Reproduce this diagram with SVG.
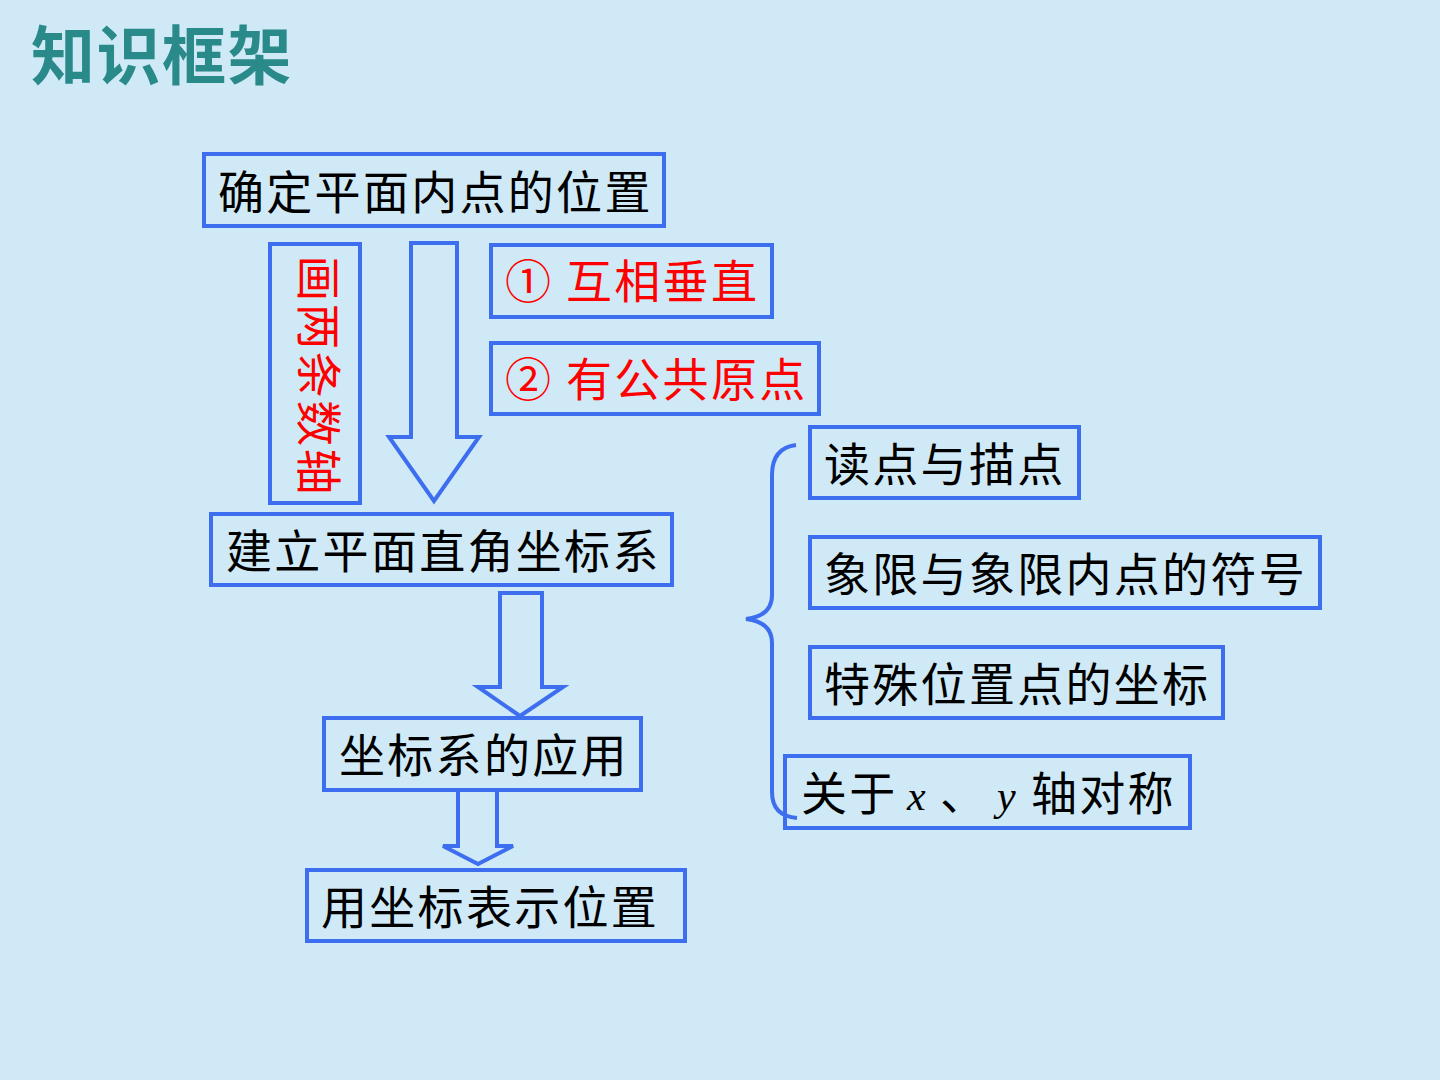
<svg xmlns="http://www.w3.org/2000/svg" width="1440" height="1080" viewBox="0 0 1440 1080">
<style>
.box{fill:none;stroke:#3d6ef0;stroke-width:4}
.arr{fill:none;stroke:#3d6ef0;stroke-width:4;stroke-linejoin:miter}
.t{font-family:"Noto Sans CJK SC","Noto Sans",sans-serif;font-size:46px;fill:#000;letter-spacing:2.3px}
.r{fill:#f00}
.it{font-family:"Liberation Serif",serif;font-style:italic;font-size:42px}
</style>
<rect width="1440" height="1080" fill="#cfe9f6"/>
<text x="31" y="79" font-family="'Noto Sans CJK SC',sans-serif" font-weight="bold" font-size="64" letter-spacing="1.5" fill="#2a8a8a">知识框架</text>
<g id="connectors">
<polygon class="arr" points="411,243 457,243 457,437 479,437 434,501 389,437 411,437"/>
<polygon class="arr" points="500,593 542,593 542,687 563,687 520,716 478,687 500,687"/>
<polygon class="arr" points="458,790 497,790 497,846 513,846 478,864 443,846 458,846"/>
<path class="arr" d="M796,445 Q772,448 772,475 L772,595 Q772,616 746,619 Q772,622 772,643 L772,792 Q772,816 797,818"/>
</g>
<g id="n1"><rect class="box" x="204" y="154" width="460" height="72"/><text class="t" x="218" y="209">确定平面内点的位置</text></g>
<g id="n2"><rect class="box" x="270" y="244" width="90" height="259"/><text class="t r" x="322" y="376" text-anchor="middle" dominant-baseline="central" transform="rotate(90 322 376)">画两条数轴</text></g>
<g id="n3"><rect class="box" x="491" y="245" width="281" height="72"/><text class="t r" x="505" y="298">①</text><text class="t r" x="566" y="298">互相垂直</text></g>
<g id="n4"><rect class="box" x="491" y="343" width="328" height="71"/><text class="t r" x="505" y="396">②</text><text class="t r" x="566" y="396">有公共原点</text></g>
<g id="n5"><rect class="box" x="211" y="514" width="461" height="71"/><text class="t" x="226" y="568">建立平面直角坐标系</text></g>
<g id="n6"><rect class="box" x="324" y="718" width="317" height="72"/><text class="t" x="339" y="772">坐标系的应用</text></g>
<g id="n7"><rect class="box" x="307" y="870" width="378" height="71"/><text class="t" x="321" y="924">用坐标表示位置</text></g>
<g id="n8"><rect class="box" x="810" y="427" width="269" height="71"/><text class="t" x="824" y="481">读点与描点</text></g>
<g id="n9"><rect class="box" x="810" y="537" width="510" height="71"/><text class="t" x="824" y="591">象限与象限内点的符号</text></g>
<g id="n10"><rect class="box" x="810" y="647" width="413" height="71"/><text class="t" x="824" y="701">特殊位置点的坐标</text></g>
<g id="n11"><rect class="box" x="785" y="756" width="405" height="72"/><text class="t" x="801" y="810">关于</text><text class="it" x="907" y="810">x</text><text class="t" x="940" y="810">、</text><text class="it" x="997" y="810">y</text><text class="t" x="1031" y="810">轴对称</text></g>
</svg>
